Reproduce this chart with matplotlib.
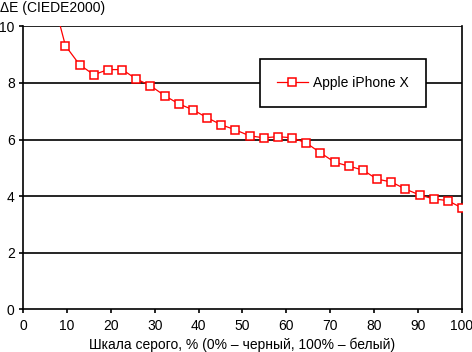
import matplotlib
matplotlib.use("Agg")
import matplotlib.pyplot as plt
import numpy as np

plt.rcParams['font.family'] = ['Liberation Sans', 'DejaVu Sans']

# Data
levels = list(range(2, 32))  # grey steps out of 31
gray_pct = [100 * k / 31 for k in levels]
delta_e = [11.2, 9.31, 8.64, 8.29, 8.47, 8.47, 8.14, 7.90, 7.55, 7.26, 7.05,
           6.77, 6.52, 6.34, 6.13, 6.06, 6.10, 6.06, 5.88, 5.53, 5.20, 5.06,
           4.92, 4.60, 4.50, 4.25, 4.04, 3.90, 3.84, 3.58]
series_name = "Apple iPhone X"
x_ticks = list(range(0, 101, 10))
y_ticks = [0, 2, 4, 6, 8, 10]

fig = plt.figure(figsize=(4.72, 3.52), dpi=100)
ax = fig.add_axes([23/472, 1 - 309.3/352, (462-23)/472, (309.3-26.3)/352])

ax.set_xlim(0, 100)
ax.set_ylim(0, 10)
ax.set_xticks(x_ticks)
ax.set_yticks(y_ticks)
for y in y_ticks[1:]:
    ax.axhline(y, color='black', linewidth=1.2, zorder=1)

line, = ax.plot(gray_pct, delta_e, color='#ff0000', linewidth=0.9,
                marker='s', markersize=5.5, markerfacecolor='white',
                markeredgecolor='#ff0000', markeredgewidth=1.1, zorder=3,
                label=series_name)

for s in ['left', 'bottom', 'right']:
    ax.spines[s].set_linewidth(1.2)
    ax.spines[s].set_color('black')
ax.spines['top'].set_visible(False)

ax.tick_params(axis='both', direction='out', length=3, width=1.2,
               labelsize=10, colors='black', pad=4)
ax.tick_params(axis='y', pad=3)

ax.set_xlabel("Шкала серого, % (0% – черный, 100% – белый)", fontsize=10, labelpad=3)
fig.text(0.0, 1 - 8/352, "ΔE (CIEDE2000)", fontsize=10, ha='left', va='center')

leg = ax.legend(loc='center', bbox_to_anchor=((343-23)/439, (309.3-83)/283),
                frameon=True, fancybox=False, edgecolor='black', framealpha=1,
                fontsize=10, handlelength=2.2, borderpad=1.2, handletextpad=0.4,
                borderaxespad=0)
leg.get_frame().set_linewidth(1.2)

fig.savefig("out.png", dpi=100)
